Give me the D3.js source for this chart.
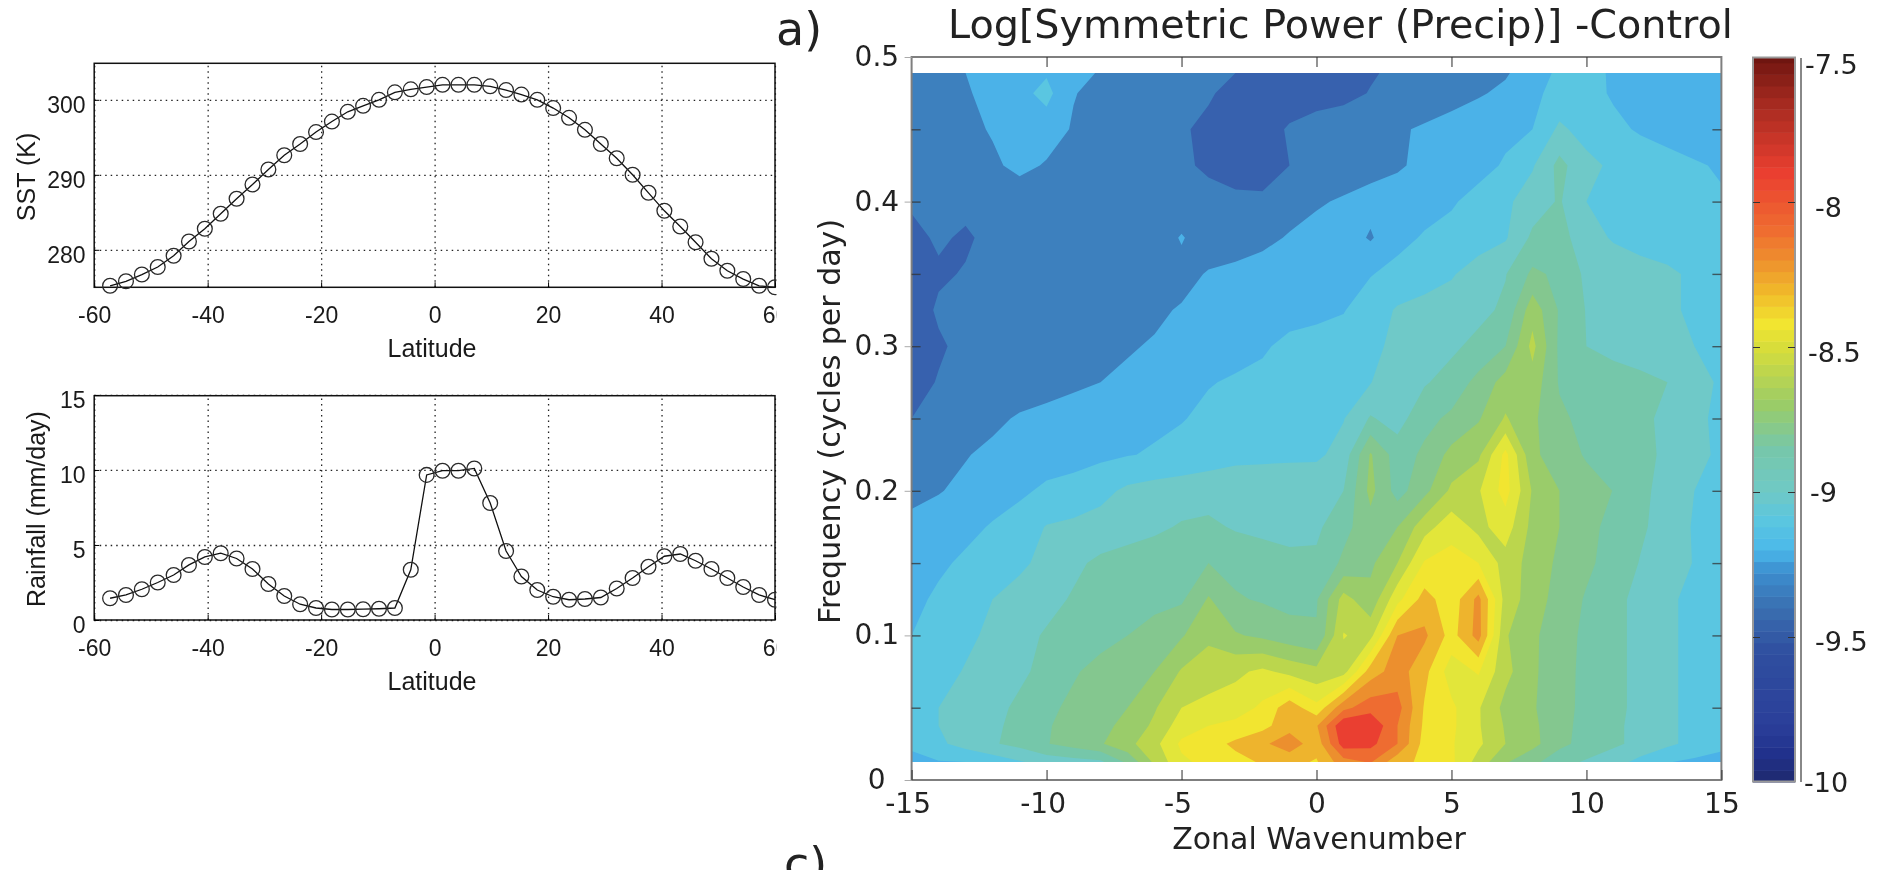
<!DOCTYPE html>
<html>
<head>
<meta charset="utf-8">
<script src="https://cdn.jsdelivr.net/npm/d3@7"></script>
<style>
	html, body { margin: 0; padding: 0; background: #fff; overflow: hidden; }
	svg { display: block; filter: blur(0.6px); }
	.line-panel text { font-family: "Liberation Sans", Arial, sans-serif; fill: #1a1a1a; }
	.spectrum text, .heading { font-family: "DejaVu Sans", sans-serif; fill: #222; }
</style>
</head>
<body>
<div id="chart"></div>
<script>
// Model grid latitudes shared by both line panels
const latitudes = [-57.2, -54.4, -51.6, -48.8, -46.0, -43.3, -40.5, -37.7, -34.9, -32.1, -29.3, -26.5, -23.7, -20.9, -18.1, -15.3, -12.6, -9.8, -7.0, -4.2, -1.4,
	1.4, 4.2, 7.0, 9.8, 12.6, 15.3, 18.1, 20.9, 23.7, 26.5, 29.3, 32.1, 34.9, 37.7, 40.5, 43.3, 46.0, 48.8, 51.6, 54.4, 57.2, 60.0];
const sst = [275.2, 275.8, 276.7, 277.7, 279.2, 281.1, 282.8, 284.8, 286.8, 288.7, 290.7, 292.6, 294.1, 295.7, 297.1, 298.4, 299.2, 300.0, 301.0, 301.4, 301.7,
	302.0, 302.0, 302.0, 301.8, 301.3, 300.7, 300.0, 298.9, 297.6, 296.0, 294.1, 292.2, 290.0, 287.6, 285.2, 283.1, 281.0, 278.8, 277.2, 276.1, 275.2, 275.0];
const rainfall = [1.45, 1.67, 2.05, 2.5, 3.0, 3.67, 4.2, 4.45, 4.1, 3.4, 2.4, 1.6, 1.05, 0.8, 0.7, 0.7, 0.72, 0.75, 0.8, 3.35, 9.67,
	9.95, 9.95, 10.1, 7.8, 4.6, 2.9, 2.0, 1.55, 1.35, 1.4, 1.5, 2.1, 2.8, 3.55, 4.25, 4.4, 3.95, 3.4, 2.8, 2.2, 1.67, 1.35];
const latitudeTicks = [-60, -40, -20, 0, 20, 40, 60];
const sstTicks = [280, 290, 300];
const rainfallTicks = [0, 5, 10, 15];

// Wavenumber-frequency spectrum, one row per frequency, one column per wavenumber
const wavenumbers = d3.range(-15, 16);
const frequencies = [0.0125, 0.025, 0.0375, 0.05, 0.075, 0.1, 0.125, 0.15, 0.175, 0.2, 0.225, 0.25, 0.275, 0.3, 0.325, 0.35, 0.375, 0.4, 0.425, 0.45, 0.475, 0.489];
const logPower = [
	[-9.215,-9.205,-9.2,-9.16,-9.11,-9.06,-9.04,-9.02,-8.88,-8.68,-8.52,-8.47,-8.43,-8.39,-8.37,-8.41,-8.24,-8.19,-8.37,-8.42,-8.48,-8.64,-8.79,-8.87,-8.97,-9.01,-9.06,-9.13,-9.195,-9.22,-9.24],
	[-9.19,-9.12,-9.06,-9.01,-8.97,-8.905,-8.86,-8.81,-8.73,-8.63,-8.48,-8.44,-8.38,-8.32,-8.24,-8.36,-8.05,-8.07,-8.2,-8.44,-8.49,-8.58,-8.7,-8.77,-8.87,-8.94,-8.98,-9.03,-9.08,-9.13,-9.17],
	[-9.17,-9.1,-9.06,-9.02,-8.97,-8.91,-8.86,-8.83,-8.77,-8.68,-8.55,-8.5,-8.47,-8.43,-8.34,-8.31,-8.01,-8.01,-8.2,-8.42,-8.48,-8.59,-8.71,-8.78,-8.86,-8.94,-8.98,-9.03,-9.08,-9.13,-9.16],
	[-9.17,-9.1,-9.07,-9.03,-8.98,-8.92,-8.88,-8.84,-8.8,-8.71,-8.6,-8.57,-8.55,-8.48,-8.34,-8.47,-8.23,-8.14,-8.16,-8.41,-8.48,-8.59,-8.73,-8.79,-8.86,-8.93,-8.98,-9.02,-9.08,-9.13,-9.17],
	[-9.18,-9.15,-9.09,-9.06,-9.02,-8.97,-8.91,-8.87,-8.84,-8.8,-8.69,-8.65,-8.62,-8.58,-8.63,-8.67,-8.64,-8.35,-8.25,-8.37,-8.55,-8.49,-8.67,-8.78,-8.87,-8.92,-8.97,-9.03,-9.08,-9.13,-9.17],
	[-9.2,-9.17,-9.13,-9.07,-9.03,-8.99,-8.96,-8.93,-8.9,-8.86,-8.81,-8.72,-8.79,-8.82,-8.86,-8.89,-8.595,-8.63,-8.3,-8.28,-8.44,-8.26,-8.69,-8.78,-8.86,-8.92,-8.97,-9.03,-9.08,-9.13,-9.17],
	[-9.23,-9.18,-9.14,-9.1,-9.06,-9.03,-8.99,-8.96,-8.94,-8.93,-8.915,-8.79,-8.89,-8.91,-8.93,-8.91,-8.66,-8.77,-8.53,-8.36,-8.46,-8.27,-8.64,-8.75,-8.84,-8.91,-8.97,-9.03,-9.08,-9.13,-9.16],
	[-9.27,-9.22,-9.18,-9.15,-9.12,-9.07,-9.02,-8.98,-8.96,-8.94,-8.92,-8.9,-8.93,-8.94,-8.96,-8.98,-8.88,-8.82,-8.7,-8.49,-8.46,-8.5,-8.64,-8.74,-8.82,-8.88,-8.94,-9.005,-9.05,-9.105,-9.15],
	[-9.28,-9.26,-9.23,-9.19,-9.15,-9.095,-9.08,-9.06,-9.04,-9.02,-8.99,-8.98,-9.01,-9.03,-9.05,-9.02,-8.93,-8.84,-8.8,-8.64,-8.54,-8.63,-8.55,-8.73,-8.8,-8.87,-8.93,-8.985,-9.04,-9.11,-9.15],
	[-9.32,-9.305,-9.28,-9.25,-9.22,-9.18,-9.16,-9.13,-9.08,-9.06,-9.05,-9.04,-9.03,-9.03,-9.03,-9.02,-9.0,-8.77,-8.94,-8.83,-8.68,-8.61,-8.46,-8.71,-8.8,-8.86,-8.902,-8.98,-9.03,-9.1,-9.14],
	[-9.34,-9.32,-9.305,-9.28,-9.26,-9.25,-9.24,-9.22,-9.205,-9.19,-9.17,-9.15,-9.13,-9.125,-9.12,-9.12,-9.06,-8.79,-8.95,-8.88,-8.77,-8.72,-8.47,-8.78,-8.85,-8.91,-8.94,-8.97,-9.02,-9.07,-9.12],
	[-9.4,-9.37,-9.35,-9.32,-9.29,-9.27,-9.25,-9.24,-9.23,-9.22,-9.205,-9.18,-9.16,-9.15,-9.14,-9.125,-9.105,-8.99,-9.04,-8.93,-8.88,-8.81,-8.69,-8.78,-8.88,-8.93,-8.95,-8.98,-9.02,-9.07,-9.13],
	[-9.43,-9.395,-9.37,-9.36,-9.35,-9.34,-9.32,-9.3,-9.28,-9.26,-9.24,-9.205,-9.19,-9.18,-9.16,-9.15,-9.13,-9.105,-9.0,-9.01,-8.96,-8.87,-8.76,-8.74,-8.91,-8.96,-8.97,-8.98,-9.0,-9.05,-9.12],
	[-9.44,-9.41,-9.38,-9.36,-9.35,-9.34,-9.33,-9.32,-9.31,-9.29,-9.27,-9.25,-9.23,-9.21,-9.18,-9.17,-9.16,-9.13,-9.07,-9.05,-9.02,-8.97,-8.9,-8.67,-8.92,-9.0,-9.02,-9.04,-9.06,-9.1,-9.14],
	[-9.44,-9.39,-9.37,-9.36,-9.36,-9.36,-9.355,-9.35,-9.34,-9.32,-9.29,-9.27,-9.25,-9.24,-9.23,-9.22,-9.205,-9.15,-9.09,-9.07,-9.05,-9.03,-8.98,-8.74,-8.91,-9.005,-9.03,-9.05,-9.08,-9.12,-9.15],
	[-9.43,-9.41,-9.395,-9.37,-9.36,-9.36,-9.36,-9.36,-9.36,-9.36,-9.34,-9.29,-9.27,-9.25,-9.24,-9.23,-9.22,-9.205,-9.17,-9.14,-9.11,-9.05,-9.005,-8.88,-8.92,-9.02,-9.04,-9.06,-9.08,-9.12,-9.15],
	[-9.42,-9.39,-9.41,-9.38,-9.37,-9.37,-9.37,-9.37,-9.37,-9.37,-9.29,-9.37,-9.36,-9.33,-9.29,-9.27,-9.25,-9.31,-9.23,-9.19,-9.17,-9.15,-9.11,-8.98,-8.96,-9.06,-9.11,-9.14,-9.16,-9.17,-9.18],
	[-9.39,-9.39,-9.38,-9.37,-9.37,-9.38,-9.38,-9.38,-9.38,-9.38,-9.38,-9.38,-9.38,-9.38,-9.35,-9.31,-9.29,-9.27,-9.26,-9.24,-9.21,-9.17,-9.12,-9.05,-8.99,-9.1,-9.13,-9.15,-9.17,-9.18,-9.19],
	[-9.37,-9.37,-9.35,-9.32,-9.27,-9.31,-9.35,-9.37,-9.38,-9.38,-9.39,-9.41,-9.44,-9.45,-9.4,-9.37,-9.35,-9.33,-9.31,-9.28,-9.26,-9.23,-9.19,-9.11,-8.97,-9.07,-9.12,-9.15,-9.17,-9.19,-9.21],
	[-9.36,-9.35,-9.33,-9.29,-9.25,-9.25,-9.31,-9.34,-9.36,-9.37,-9.39,-9.42,-9.45,-9.44,-9.39,-9.36,-9.34,-9.33,-9.31,-9.29,-9.26,-9.24,-9.22,-9.2,-9.08,-9.14,-9.18,-9.21,-9.23,-9.25,-9.26],
	[-9.36,-9.34,-9.31,-9.27,-9.23,-9.17,-9.295,-9.33,-9.35,-9.36,-9.37,-9.39,-9.43,-9.45,-9.45,-9.44,-9.43,-9.395,-9.37,-9.35,-9.34,-9.31,-9.28,-9.22,-9.17,-9.17,-9.21,-9.23,-9.25,-9.26,-9.27],
	[-9.35,-9.32,-9.3,-9.25,-9.23,-9.21,-9.26,-9.31,-9.34,-9.35,-9.36,-9.38,-9.4,-9.43,-9.44,-9.44,-9.44,-9.41,-9.38,-9.36,-9.35,-9.33,-9.31,-9.25,-9.18,-9.15,-9.22,-9.24,-9.25,-9.26,-9.27]
];
const contourLevels = [-9.5, -9.4, -9.3, -9.2, -9.1, -9.0, -8.9, -8.8, -8.7, -8.6, -8.5, -8.4, -8.3, -8.2, -8.1];
const contourColors = ['#3761ae', '#3d80be', '#4bb2e8', '#5ac6e1', '#6fc9c8', '#75c7aa', '#84c78f', '#9acc6a', '#bbd64d', '#e2e63a', '#f2e530', '#eeb42d', '#ec8f2e', '#ee6c31', '#ea3f31'];
const wavenumberTicks = [-15, -10, -5, 0, 5, 10, 15];
const frequencyTicks = [0, 0.05, 0.1, 0.15, 0.2, 0.25, 0.3, 0.35, 0.4, 0.45, 0.5];

// Colour bar
const barStops = [-10, -9.9, -9.8, -9.55, -9.4, -9.27, -9.2, -9.1, -9, -8.85, -8.7, -8.5, -8.42, -8.3, -8.2, -8.1, -7.9, -7.66, -7.5];
const barColors = ['#1f2a6e', '#21318c', '#2b3f9a', '#2f4fa0', '#3a6fb0', '#3d90d0', '#4bb8ea', '#5ac6e0', '#6fc9c6', '#76c7aa', '#9acc68', '#d8dd3a', '#f2e530', '#f0b52a', '#ee8f2e', '#ef6d30', '#ea3f30', '#a52a20', '#6f1510'];
const barTicks = [-7.5, -8, -8.5, -9, -9.5, -10];

const svg = d3.select('#chart').append('svg')
	.attr('width', 1890)
	.attr('height', 870);

svg.append('defs').append('clipPath')
	.attr('id', 'left-crop')
	.append('rect')
	.attr('width', 776.5)
	.attr('height', 870);

// plain hyphen in the tick labels, d3.format would give a long minus
const plainNumber = d => String(d);

function linePanel(options){
	const x = d3.scaleLinear().domain([-60, 60]).range([94.2, 775]),
		y = d3.scaleLinear().domain(options.domain).range([options.bottom, options.top]),
		g = svg.append('g')
			.classed('line-panel', true)
			.attr('clip-path', 'url(#left-crop)');

	// dotted grid
	g.append('g')
		.attr('transform', `translate(0,${options.bottom})`)
		.call(d3.axisBottom(x).tickValues(latitudeTicks).tickSize(options.top - options.bottom).tickFormat(''))
		.call(a => a.select('.domain').remove())
		.selectAll('line')
		.attr('stroke', '#222')
		.attr('stroke-width', 1.3)
		.attr('stroke-dasharray', '1.5 4');

	g.append('g')
		.attr('transform', 'translate(94.2,0)')
		.call(d3.axisLeft(y).tickValues(options.ticks).tickSize(94.2 - 775).tickFormat(''))
		.call(a => a.select('.domain').remove())
		.selectAll('line')
		.attr('stroke', '#222')
		.attr('stroke-width', 1.3)
		.attr('stroke-dasharray', '1.5 4');

	g.append('rect')
		.attr('x', 94.2)
		.attr('y', options.top)
		.attr('width', 775 - 94.2)
		.attr('height', options.bottom - options.top)
		.attr('fill', 'none')
		.attr('stroke', '#111')
		.attr('stroke-width', 1.5);

	const xAxis = g.append('g')
		.attr('transform', `translate(0,${options.bottom})`)
		.call(d3.axisBottom(x).tickValues(latitudeTicks).tickSize(-5).tickFormat(plainNumber));
	xAxis.select('.domain').remove();
	xAxis.selectAll('text')
		.attr('y', 36)
		.attr('dy', 0)
		.style('font-size', '23px');

	const yAxis = g.append('g')
		.attr('transform', 'translate(94.2,0)')
		.call(d3.axisLeft(y).tickValues(options.ticks).tickSize(-5).tickPadding(0).tickFormat(plainNumber));
	yAxis.select('.domain').remove();
	yAxis.selectAll('text')
		.attr('x', -8.6)
		.attr('dy', 12.6)
		.style('font-size', '23px');

	const line = d3.line()
		.x((d, i) => x(latitudes[i]))
		.y(d => y(d));

	g.append('path')
		.attr('d', line(options.values))
		.attr('fill', 'none')
		.attr('stroke', '#111')
		.attr('stroke-width', 1.3);

	g.selectAll('.dot')
		.data(options.values)
		.enter()
		.append('circle')
		.classed('dot', true)
		.attr('cx', (d, i) => x(latitudes[i]))
		.attr('cy', d => y(d))
		.attr('r', 7.4)
		.attr('fill', 'none')
		.attr('stroke', '#2a2a2a')
		.attr('stroke-width', 1.3);

	g.append('text')
		.attr('x', 432)
		.attr('y', options.bottom + 69.5)
		.attr('text-anchor', 'middle')
		.style('font-size', '25px')
		.text('Latitude');

	g.append('text')
		.attr('transform', `translate(${options.labelX},${options.labelY}) rotate(-90)`)
		.attr('text-anchor', 'middle')
		.style('font-size', '25px')
		.text(options.label);
}

linePanel({
	top: 63.3, bottom: 287.3, domain: [275, 304.87],
	values: sst, ticks: sstTicks,
	label: 'SST (K)', labelX: 35, labelY: 177
});

linePanel({
	top: 395.7, bottom: 620, domain: [0, 14.95],
	values: rainfall, ticks: rainfallTicks,
	label: 'Rainfall (mm/day)', labelX: 45, labelY: 509
});

// ###
// SPECTRUM
// ###
const spectrum = svg.append('g').classed('spectrum', true),
	plotLeft = 911.6, plotRight = 1721.4, plotTop = 57, plotBottom = 780,
	xWave = d3.scaleLinear().domain([-15, 15]).range([plotLeft, plotRight]),
	yFreq = d3.scaleLinear().domain([0, 0.5]).range([plotBottom, plotTop]),
	colToWave = d3.scaleLinear().domain(wavenumbers.map((d, i) => i)).range(wavenumbers),
	rowToFreq = d3.scaleLinear().domain(frequencies.map((d, i) => i)).range(frequencies);

// d3.contours puts node j at j + 0.5, so undo that and stop at the outer nodes
const gridProjection = d3.geoTransform({
	point: function(px, py){
		const col = Math.max(0, Math.min(wavenumbers.length - 1, px - 0.5)),
			row = Math.max(0, Math.min(frequencies.length - 1, py - 0.5));
		this.stream.point(xWave(colToWave(col)), yFreq(rowToFreq(row)));
	}
});

const contours = d3.contours()
	.size([wavenumbers.length, frequencies.length])
	.thresholds(contourLevels)(logPower.flat());

spectrum.append('g')
	.selectAll('path')
	.data(contours)
	.enter()
	.append('path')
	.attr('d', d3.geoPath(gridProjection))
	.attr('fill', (d, i) => contourColors[i]);

spectrum.append('rect')
	.attr('x', plotLeft)
	.attr('y', plotTop)
	.attr('width', plotRight - plotLeft)
	.attr('height', plotBottom - plotTop)
	.attr('fill', 'none')
	.attr('stroke', '#7f7f7f')
	.attr('stroke-width', 2);

const tickStyle = sel => sel.attr('stroke', '#333').attr('stroke-opacity', 0.75).attr('stroke-width', 1.4);

spectrum.append('g')
	.attr('transform', `translate(0,${plotTop})`)
	.call(d3.axisTop(xWave).tickValues(wavenumberTicks.slice(1, -1)).tickSize(-10).tickFormat(''))
	.call(a => a.select('.domain').remove())
	.selectAll('line').call(tickStyle);

const waveAxis = spectrum.append('g')
	.attr('transform', `translate(0,${plotBottom})`)
	.call(d3.axisBottom(xWave).tickValues(wavenumberTicks).tickSize(-10).tickFormat(plainNumber));
waveAxis.select('.domain').remove();
waveAxis.selectAll('line').call(tickStyle);
waveAxis.selectAll('text')
	.attr('y', 33)
	.attr('dy', 0)
	.attr('dx', d => d < 0 ? -4 : 0)
	.style('font-size', '28px');

const freqAxis = spectrum.append('g')
	.attr('transform', `translate(${plotLeft},0)`)
	.call(d3.axisLeft(yFreq).tickValues(frequencyTicks.slice(1, -1)).tickSize(-9).tickFormat(''));
freqAxis.select('.domain').remove();
freqAxis.selectAll('line').call(tickStyle);

spectrum.append('g')
	.attr('transform', `translate(${plotRight},0)`)
	.call(d3.axisRight(yFreq).tickValues(frequencyTicks.slice(1, -1)).tickSize(-9).tickFormat(''))
	.call(a => a.select('.domain').remove())
	.selectAll('line').call(tickStyle);

// short light ticks next to the frequency labels, and the labels
const freqLabels = spectrum.append('g')
	.attr('transform', `translate(${plotLeft},0)`)
	.call(d3.axisLeft(yFreq).tickValues(frequencyTicks.filter((d, i) => i % 2 === 0)).tickSize(7).tickFormat(d3.format('.1~f')));
freqLabels.select('.domain').remove();
freqLabels.selectAll('line').attr('stroke', '#aaa');
freqLabels.selectAll('text')
	.attr('x', d => d === 0 ? -26 : -12.5)
	.attr('dy', '0.3em')
	.style('font-size', '28px');

spectrum.append('text')
	.attr('x', 1319)
	.attr('y', 849)
	.attr('text-anchor', 'middle')
	.style('font-size', '30px')
	.text('Zonal Wavenumber');

spectrum.append('text')
	.attr('transform', 'translate(840,421.5) rotate(-90)')
	.attr('text-anchor', 'middle')
	.style('font-size', '30px')
	.text('Frequency (cycles per day)');

spectrum.append('text')
	.attr('x', 948)
	.attr('y', 38)
	.style('font-size', '39.7px')
	.text('Log[Symmetric Power (Precip)] -Control');

svg.append('text').classed('heading', true)
	.attr('x', 776)
	.attr('y', 45)
	.style('font-size', '46px')
	.text('a)');

svg.append('text').classed('heading', true)
	.attr('x', 784)
	.attr('y', 880)
	.style('font-size', '46px')
	.text('c)');

// ###
// COLOUR BAR
// ###
const barG = svg.append('g').classed('spectrum', true),
	yBar = d3.scaleLinear().domain([-10, -7.5]).range([782, 57]),
	barColor = d3.scaleLinear().domain(barStops).range(barColors),
	barStep = 0.04;

barG.selectAll('.bar-band')
	.data(d3.range(-10, -7.5, barStep))
	.enter()
	.append('rect')
	.classed('bar-band', true)
	.attr('x', 1753)
	.attr('width', 42)
	.attr('y', d => yBar(Math.min(d + barStep, -7.5)))
	.attr('height', d => yBar(d) - yBar(Math.min(d + barStep, -7.5)) + 0.5)
	.attr('fill', d => barColor(d + barStep / 2));

barG.append('rect')
	.attr('x', 1753)
	.attr('y', 57.5)
	.attr('width', 42)
	.attr('height', 724)
	.attr('fill', 'none')
	.attr('stroke', '#999')
	.attr('stroke-width', 2);

barG.append('line')
	.attr('x1', 1801)
	.attr('x2', 1801)
	.attr('y1', 58)
	.attr('y2', 782)
	.attr('stroke', '#888')
	.attr('stroke-width', 2);

barG.append('g')
	.attr('transform', 'translate(1753,0)')
	.call(d3.axisLeft(yBar).tickValues(barTicks.slice(1, -1)).tickSize(-7).tickFormat(''))
	.call(a => a.select('.domain').remove())
	.selectAll('line').attr('stroke', '#333');

barG.append('g')
	.attr('transform', 'translate(1795,0)')
	.call(d3.axisRight(yBar).tickValues(barTicks.slice(1, -1)).tickSize(-7).tickFormat(''))
	.call(a => a.select('.domain').remove())
	.selectAll('line').attr('stroke', '#333');

// labels sit unevenly in the reference, nudges are per tick
const barLabelX = {'-7.5': 1805, '-8': 1815, '-8.5': 1808, '-9': 1810, '-9.5': 1815, '-10': 1804},
	barLabelNudge = {'-7.5': 7, '-8': 5, '-8.5': 5, '-9': 0, '-9.5': 4, '-10': 0};

barG.selectAll('.bar-label')
	.data(barTicks)
	.enter()
	.append('text')
	.classed('bar-label', true)
	.attr('x', d => barLabelX[d])
	.attr('y', d => yBar(d) + barLabelNudge[d])
	.attr('dy', '0.36em')
	.style('font-size', '27px')
	.text(d => d);
</script>
</body>
</html>
